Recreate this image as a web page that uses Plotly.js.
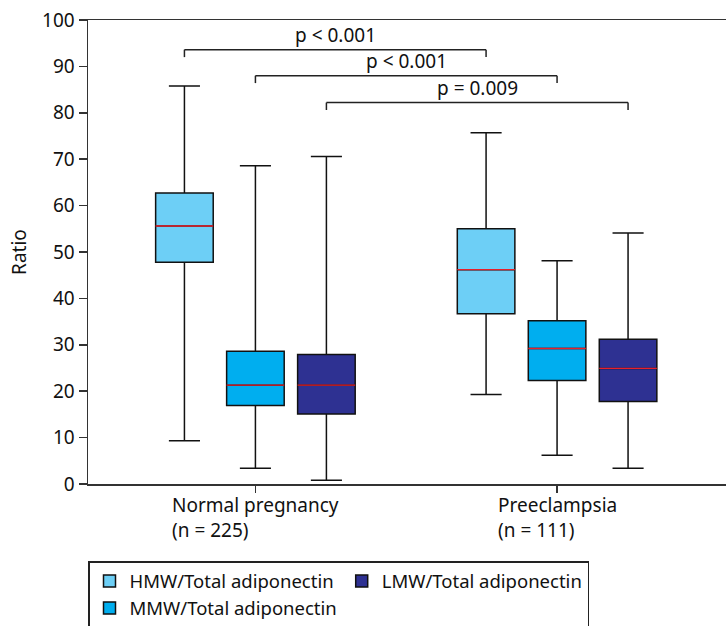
<!DOCTYPE html>
<html>
<head>
<meta charset="utf-8">
<script src="https://cdn.plot.ly/plotly-3.0.1.min.js"></script>
<style>html,body{margin:0;padding:0;background:#fff}#chart{width:726px;height:626px}</style>
</head>
<body>
<div id="chart"></div>
<script>
// ---- data ----
const categories = ['Normal pregnancy', 'Preeclampsia'];
const groupSizes = ['(n = 225)', '(n = 111)'];
const seriesNames = ['HMW/Total adiponectin', 'MMW/Total adiponectin', 'LMW/Total adiponectin'];

const hmwLower  = [9.3, 19.3];
const hmwQ1     = [47.8, 36.7];
const hmwMedian = [55.6, 46.2];
const hmwQ3     = [62.7, 55.0];
const hmwUpper  = [85.8, 75.7];

const mmwLower  = [3.4, 6.2];
const mmwQ1     = [16.9, 22.3];
const mmwMedian = [21.3, 29.2];
const mmwQ3     = [28.6, 35.2];
const mmwUpper  = [68.6, 48.1];

const lmwLower  = [0.8, 3.4];
const lmwQ1     = [15.1, 17.8];
const lmwMedian = [21.3, 24.9];
const lmwQ3     = [27.9, 31.2];
const lmwUpper  = [70.6, 54.1];

const pLabels = ['p < 0.001', 'p < 0.001', 'p = 0.009'];
const pSeries = [0, 1, 2];          // series compared between the two groups
const pLevels = [93.6, 88.0, 82.2]; // bracket heights (ratio units)

// ---- styling ----
const FONT = 'Noto Sans, sans-serif';
const FS = 19;
const colors = ['#6dcff6', '#00aeef', '#2e3192'];
const boxGap = 0.294;
const boxGroupGap = 0.189;

const stats = [
  {lo: hmwLower, q1: hmwQ1, med: hmwMedian, q3: hmwQ3, hi: hmwUpper},
  {lo: mmwLower, q1: mmwQ1, med: mmwMedian, q3: mmwQ3, hi: mmwUpper},
  {lo: lmwLower, q1: lmwQ1, med: lmwMedian, q3: lmwQ3, hi: lmwUpper}
];
const ranks = [1, 3, 2];

const traces = [];
stats.forEach((s, i) => {
  traces.push({
    type: 'box', name: seriesNames[i], x: categories,
    lowerfence: s.lo, q1: s.q1, median: s.med, q3: s.q3, upperfence: s.hi,
    offsetgroup: 'g' + i, legendrank: ranks[i],
    fillcolor: colors[i], line: {color: '#111', width: 1.5},
    whiskerwidth: 0.54, hoverinfo: 'skip'
  });
});
stats.forEach((s, i) => {
  traces.push({
    type: 'box', name: seriesNames[i] + ' median', x: categories,
    lowerfence: s.med, q1: s.med, median: s.med, q3: s.med, upperfence: s.med,
    offsetgroup: 'g' + i, showlegend: false,
    fillcolor: 'rgba(0,0,0,0)', line: {color: '#e8202a', width: 1.3},
    whiskerwidth: 0, hoverinfo: 'skip'
  });
});

const step = (1 - boxGap) / 3;
const shapes = [];
const annotations = [];
pLabels.forEach((lab, k) => {
  const off = step * (pSeries[k] - 1);
  const x0 = 0 + off, x1 = 1 + off, y = pLevels[k], drop = 1.6;
  const ln = {color: '#222', width: 1.5};
  shapes.push({type: 'line', xref: 'x', yref: 'y', x0: x0, x1: x1, y0: y, y1: y, line: ln});
  shapes.push({type: 'line', xref: 'x', yref: 'y', x0: x0, x1: x0, y0: y, y1: y - drop, line: ln});
  shapes.push({type: 'line', xref: 'x', yref: 'y', x0: x1, x1: x1, y0: y, y1: y - drop, line: ln});
  annotations.push({xref: 'x', yref: 'y', x: (x0 + x1) / 2, y: y, yanchor: 'bottom', xanchor: 'center',
    text: lab, showarrow: false, font: {family: FONT, size: FS, color: '#111'}});
});
categories.forEach((c, i) => {
  annotations.push({xref: 'x', yref: 'paper', x: i, y: -0.012, yanchor: 'top', xanchor: 'center',
    align: 'left', text: c + '<br>' + groupSizes[i], showarrow: false,
    font: {family: FONT, size: FS, color: '#111'}});
});

const layout = {
  width: 726, height: 626,
  margin: {l: 88, r: 0, t: 20, b: 142, autoexpand: false},
  paper_bgcolor: '#fff', plot_bgcolor: '#fff',
  font: {family: FONT, size: FS, color: '#111'},
  boxmode: 'group', boxgap: boxGap, boxgroupgap: boxGroupGap,
  showlegend: true,
  legend: {orientation: 'h', x: 0, xanchor: 'left', y: -0.166, yanchor: 'top',
    bordercolor: '#222', borderwidth: 1.5, font: {family: FONT, size: 18.5, color: '#111'},
    itemwidth: 30, traceorder: 'normal'},
  xaxis: {type: 'category', range: [-0.555, 1.56], showgrid: false, zeroline: false,
    showline: true, linecolor: '#333', linewidth: 1.5, mirror: true,
    ticks: 'outside', ticklen: 7, tickcolor: '#333', tickwidth: 1.5, showticklabels: false},
  yaxis: {range: [0, 100], dtick: 10, showgrid: false, zeroline: false,
    showline: true, linecolor: '#333', linewidth: 1.5,
    ticks: 'outside', ticklen: 8, tickcolor: '#333', tickwidth: 1.5,
    tickfont: {family: FONT, size: FS, color: '#111'},
    title: {text: 'Ratio', standoff: 10, font: {family: FONT, size: FS, color: '#111'}}},
  shapes: shapes, annotations: annotations
};

Plotly.newPlot('chart', traces, layout, {displayModeBar: false, staticPlot: true});
</script>
</body>
</html>
